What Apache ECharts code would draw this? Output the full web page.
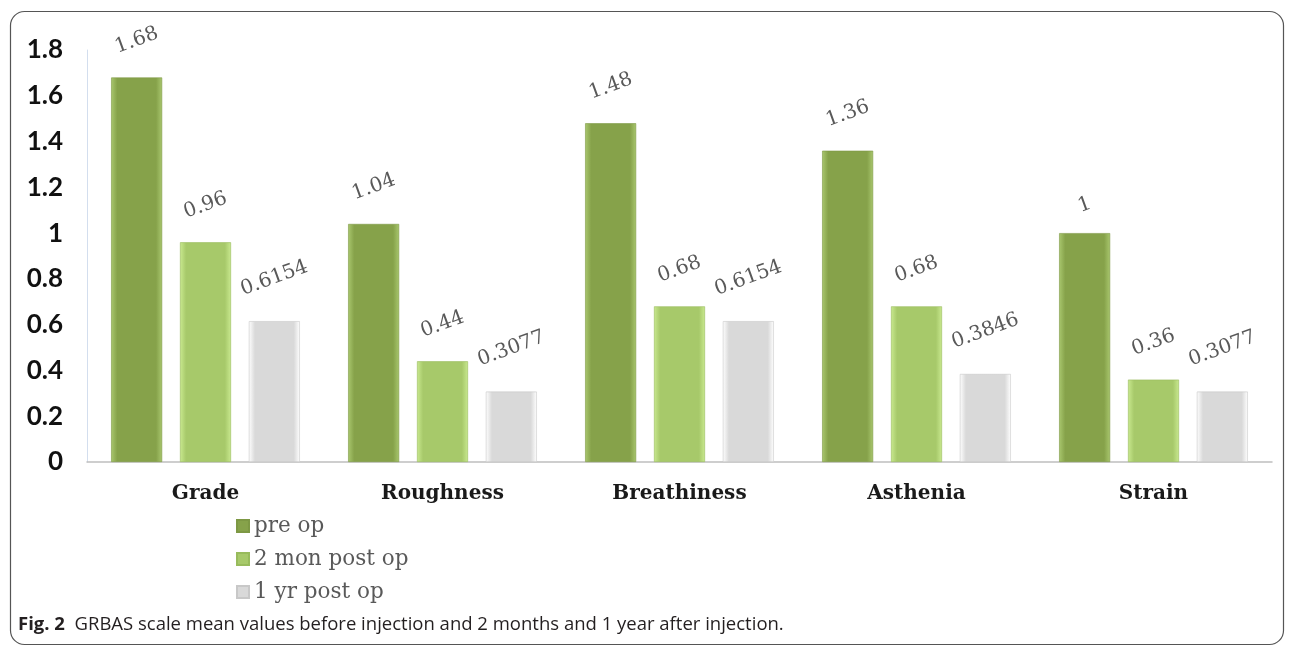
<!DOCTYPE html>
<html>
<head>
<meta charset="utf-8">
<script src="https://cdn.jsdelivr.net/npm/echarts@6/dist/echarts.min.js"></script>
<style>
html,body{margin:0;padding:0;background:#fff;}
#c{width:1295px;height:649px;}
</style>
</head>
<body>
<div id="c"></div>
<script>
const categories = ['Grade', 'Roughness', 'Breathiness', 'Asthenia', 'Strain'];
const seriesNames = ['pre op', '2 mon post op', '1 yr post op'];
const preOp = [1.68, 1.04, 1.48, 1.36, 1];
const twoMonPostOp = [0.96, 0.44, 0.68, 0.68, 0.36];
const oneYrPostOp = [0.6154, 0.3077, 0.6154, 0.3846, 0.3077];
const yTicks = { min: 0, max: 1.8, interval: 0.2 };

function hGrad(edge, mid) {
  return new echarts.graphic.LinearGradient(0, 0, 1, 0, [
    { offset: 0, color: edge }, { offset: 0.12, color: mid },
    { offset: 0.88, color: mid }, { offset: 1, color: edge }
  ]);
}
const styles = [
  { color: hGrad('#a9c76e', '#86a24a'), legend: '#86a24a', border: '#7d9844' },
  { color: hGrad('#c9e98f', '#a7c96a'), legend: '#a7c96a', border: '#98bb5c' },
  { color: hGrad('#ffffff', '#d9d9d9'), legend: '#e4e4e4', border: '#c8c8c8' }
];

function mkData(vals) {
  return vals.map(v => ({
    value: v,
    label: { distance: 25 + 3 * String(v).length }
  }));
}

const allVals = [preOp, twoMonPostOp, oneYrPostOp];
const chart = echarts.init(document.getElementById('c'));
chart.setOption({
  animation: false,
  backgroundColor: '#ffffff',
  color: styles.map(s => s.legend),
  grid: { left: 87, right: 23, top: 50, bottom: 187 },
  legend: {
    orient: 'vertical', left: 231, top: 510,
    itemWidth: 12, itemHeight: 12, itemGap: 11,
    icon: 'rect',
    textStyle: { fontFamily: 'DejaVu Serif', fontSize: 21.5, color: '#595959' },
    data: seriesNames
  },
  xAxis: {
    type: 'category', data: categories,
    axisLine: { lineStyle: { color: '#bfbfbf', width: 1.5 } },
    axisTick: { show: false },
    axisLabel: { fontFamily: 'DejaVu Serif', fontWeight: 'bold', fontSize: 20, color: '#1a1a1a', margin: 22 }
  },
  yAxis: {
    type: 'value', min: yTicks.min, max: yTicks.max, interval: yTicks.interval,
    splitLine: { show: false },
    axisLine: { show: true, lineStyle: { color: '#d3deee', width: 1 } },
    axisTick: { show: false },
    axisLabel: { fontFamily: 'Lato', fontWeight: 'bold', fontSize: 26, color: '#111', margin: 24 }
  },
  series: seriesNames.map((n, i) => ({
    name: n, type: 'bar',
    data: mkData(allVals[i]),
    barWidth: 51, barGap: '35%',
    itemStyle: { color: styles[i].color, borderColor: styles[i].border, borderWidth: 0.6 },
    label: {
      show: true, position: 'top', rotate: 20,
      align: 'center', verticalAlign: 'middle',
      fontFamily: 'DejaVu Serif', fontSize: 20, color: '#595959'
    }
  })),
  graphic: [
    { type: 'rect', shape: { x: 10.5, y: 11.5, width: 1273, height: 633, r: 14 },
      style: { fill: 'none', stroke: '#555', lineWidth: 1.2 }, silent: true },
    { type: 'text', left: 18, top: 615,
      style: {
        text: '{b|Fig. 2}  GRBAS scale mean values before injection and 2 months and 1 year after injection.',
        fontFamily: 'Open Sans', fontSize: 18.5, fill: '#231f20',
        rich: { b: { fontFamily: 'Open Sans', fontWeight: 'bold', fontSize: 18.5, fill: '#231f20' } }
      } }
  ]
});
</script>
</body>
</html>
